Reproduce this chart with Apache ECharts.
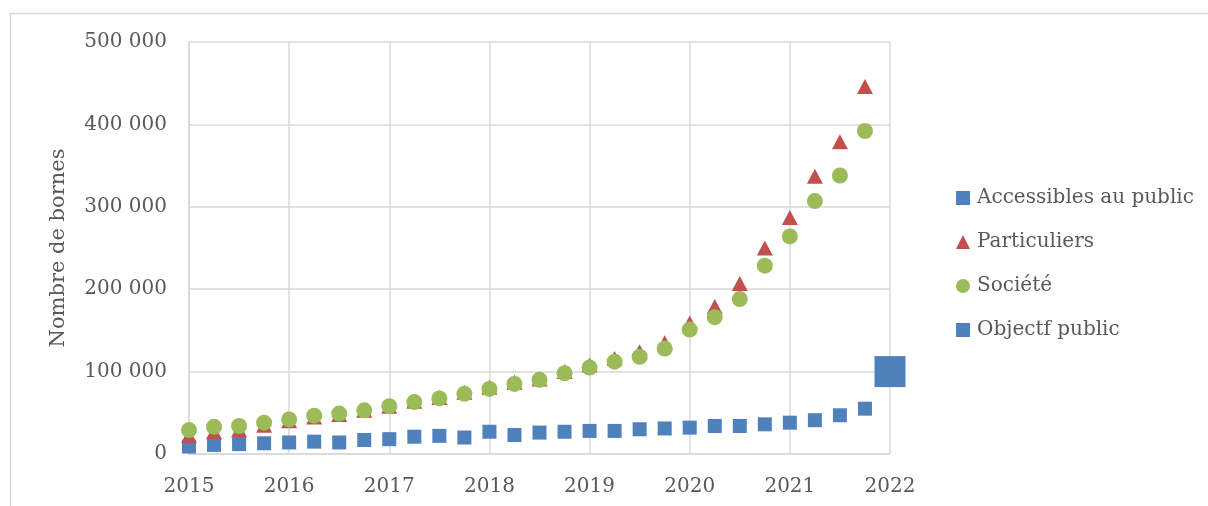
<!DOCTYPE html>
<html>
<head>
<meta charset="utf-8">
<script src="https://cdn.jsdelivr.net/npm/echarts@6/dist/echarts.min.js"></script>
<style>
  html, body { margin: 0; padding: 0; background: #fff; }
  #chart { width: 1208px; height: 506px; }
</style>
</head>
<body>
<div id="chart"></div>
<script>
// trimestres (axe des x)
const quarters = [
  2015, 2015.25, 2015.5, 2015.75,
  2016, 2016.25, 2016.5, 2016.75,
  2017, 2017.25, 2017.5, 2017.75,
  2018, 2018.25, 2018.5, 2018.75,
  2019, 2019.25, 2019.5, 2019.75,
  2020, 2020.25, 2020.5, 2020.75,
  2021, 2021.25, 2021.5, 2021.75
]
const accessibles = [
  9000, 11000, 12000, 13000,
  14000, 15000, 14000, 17000,
  18000, 21000, 22000, 20000,
  27000, 23000, 26000, 27000,
  28000, 28000, 30000, 31000,
  32000, 34000, 34000, 36000,
  38000, 41000, 47000, 55000
]
const particuliers = [
  22000, 27000, 29000, 35000,
  40500, 45000, 48000, 53000,
  58000, 64000, 68500, 75000,
  81000, 87000, 91000, 100000,
  108000, 116000, 124000, 135000,
  159000, 179000, 207000, 250000,
  287000, 337000, 379000, 446000
]
const societe = [
  29000, 33000, 34000, 38000,
  42000, 46500, 49000, 53000,
  58000, 63000, 67500, 73000,
  79000, 85000, 90000, 98000,
  105000, 112000, 118000, 128000,
  151000, 166000, 188000, 228500,
  264000, 307000, 338000, 392000
]
const objectifX = [2022]
const objectifY = [100000]
const yTicks = [0, 100000, 200000, 300000, 400000, 500000]

const blue = '#4f81bd'
const red = '#c0504d'
const green = '#9bbb59'
const font = '"DejaVu Serif", "Liberation Serif", serif'

const pair = (xs, ys) => xs.map((x, i) => [x, ys[i]])
const fmt = v => String(v).replace(/\B(?=(\d{3})+(?!\d))/g, ' ')

const chart = echarts.init(document.getElementById('chart'))
chart.setOption({
  animation: false,
  textStyle: { fontFamily: font },
  graphic: [{
    type: 'rect',
    shape: { x: 10.5, y: 13.5, width: 1220, height: 600 },
    style: { fill: 'none', stroke: '#d9d9d9', lineWidth: 1.5 },
    silent: true
  }],
  grid: { left: 189, right: 318, top: 42, bottom: 52 },
  xAxis: {
    type: 'value',
    min: 2015, max: 2022, interval: 1,
    axisLine: { show: true, lineStyle: { color: '#d9d9d9', width: 1.5 } },
    axisTick: { show: false },
    splitLine: { show: true, lineStyle: { color: '#d9d9d9', width: 1.5 } },
    axisLabel: { color: '#595959', fontSize: 20, fontFamily: font, margin: 23, formatter: v => String(v) }
  },
  yAxis: {
    type: 'value',
    min: yTicks[0], max: yTicks[yTicks.length - 1], interval: 100000,
    name: 'Nombre de bornes',
    nameLocation: 'middle',
    nameGap: 120,
    nameTextStyle: { color: '#595959', fontSize: 21, fontFamily: font },
    axisLine: { show: true, lineStyle: { color: '#d9d9d9', width: 1.5 } },
    axisTick: { show: false },
    splitLine: { show: true, lineStyle: { color: '#d9d9d9', width: 1.5 } },
    axisLabel: { color: '#595959', fontSize: 20, fontFamily: font, margin: 22, formatter: fmt }
  },
  legend: {
    orient: 'vertical',
    left: 951, top: 183,
    itemGap: 24,
    itemWidth: 14, itemHeight: 14,
    textStyle: { color: '#595959', fontSize: 20, fontFamily: font, padding: [0, 0, 0, 2] },
    data: [
      { name: 'Accessibles au public', icon: 'rect' },
      { name: 'Particuliers', icon: 'triangle' },
      { name: 'Société', icon: 'circle' },
      { name: 'Objectf public', icon: 'rect' }
    ]
  },
  series: [
    {
      name: 'Accessibles au public', type: 'scatter',
      symbol: 'rect', symbolSize: 14,
      itemStyle: { color: blue, opacity: 1 },
      data: pair(quarters, accessibles)
    },
    {
      name: 'Particuliers', type: 'scatter',
      symbol: 'triangle', symbolSize: [16, 15],
      itemStyle: { color: red, opacity: 1 },
      data: pair(quarters, particuliers)
    },
    {
      name: 'Société', type: 'scatter',
      symbol: 'circle', symbolSize: 16,
      itemStyle: { color: green, opacity: 1 },
      data: pair(quarters, societe)
    },
    {
      name: 'Objectf public', type: 'scatter',
      symbol: 'rect', symbolSize: 31,
      clip: false,
      itemStyle: { color: blue, opacity: 1 },
      data: pair(objectifX, objectifY)
    }
  ]
})
</script>
</body>
</html>
